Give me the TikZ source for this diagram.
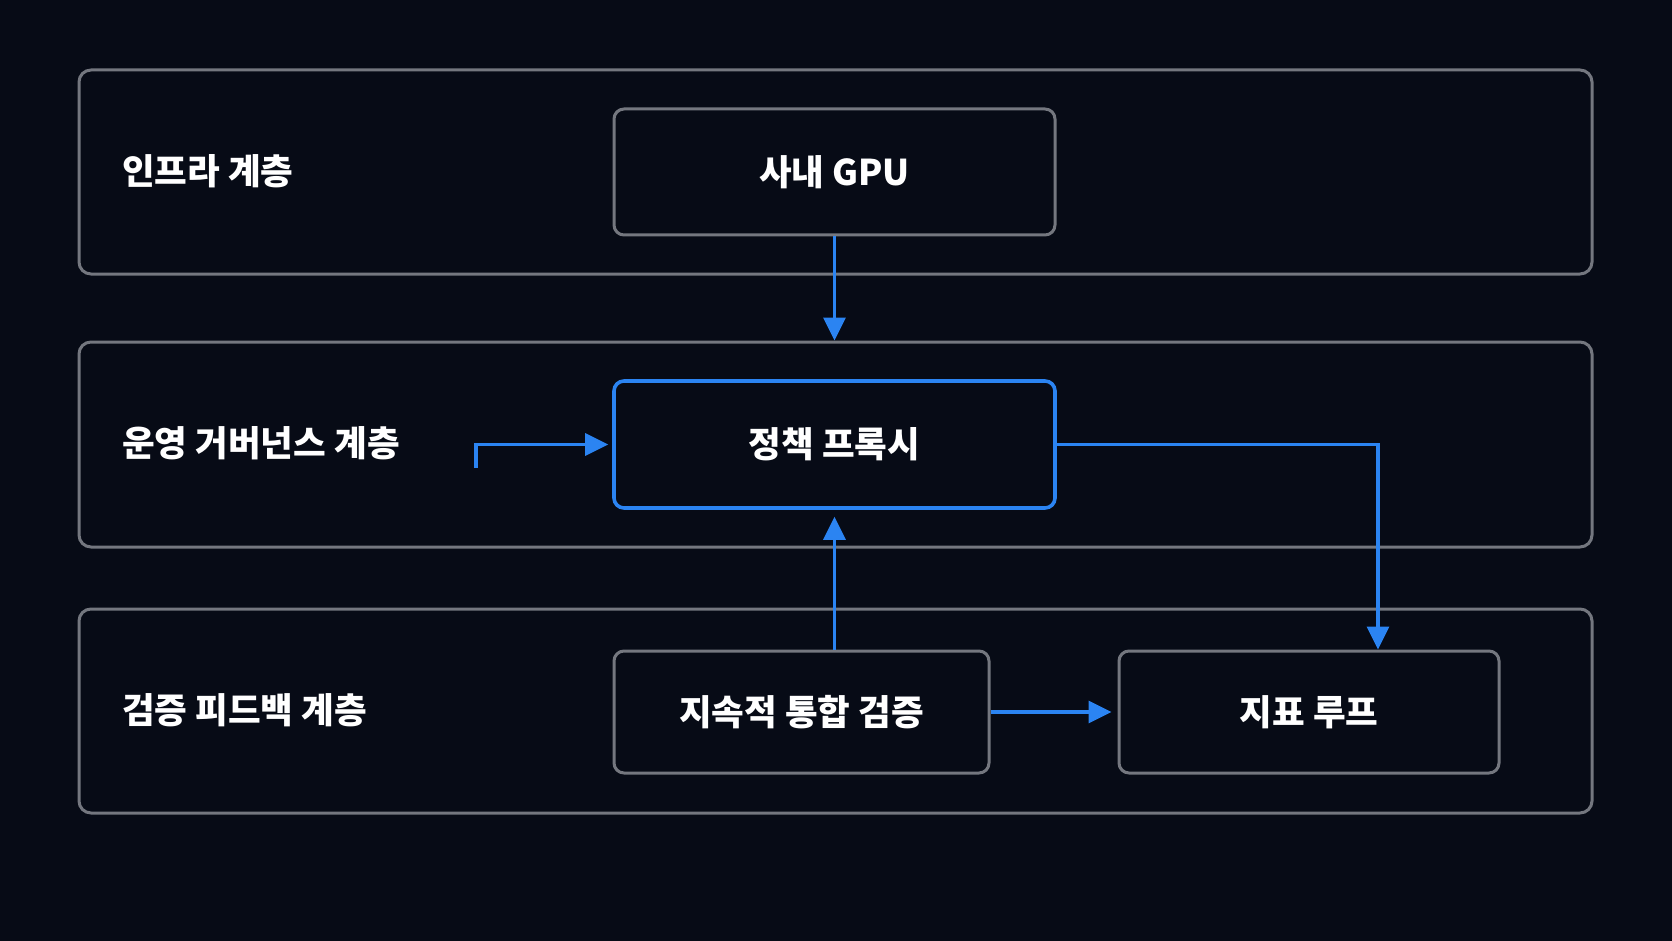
\documentclass[tikz,border=0pt]{standalone}
\usepackage{fontspec}
\setmainfont{Noto Sans CJK KR}
\usetikzlibrary{arrows.meta,positioning}

\definecolor{bg}{HTML}{070B16}
\definecolor{edge}{HTML}{74777F}
\definecolor{accent}{HTML}{2B84F2}

\begin{document}
\begin{tikzpicture}[x=1pt,y=-1pt,
    font=\fontsize{35.5}{42}\selectfont\bfseries,
    layer/.style={draw=edge, line width=3pt, rounded corners=12pt, inner sep=0pt},
    box/.style={draw=edge, line width=3pt, rounded corners=10pt, text=white, inner sep=0pt},
    tag/.style={anchor=west, text=white, inner sep=0pt},
    flow/.style={draw=accent, line width=3.3pt, arrows={-Triangle[length=23pt,width=22pt]}}]
        \fill[bg] (0,0) rectangle (1672,941);
        \useasboundingbox (0,0) rectangle (1672,941);

        % three layers
        \node[layer, minimum width=1513pt, minimum height=204pt] (infra) at (835.5,172) {};
        \node[layer, minimum width=1513pt, minimum height=205pt] (gov) at (835.5,444.5) {};
        \node[layer, minimum width=1513pt, minimum height=204pt] (check) at (835.5,711) {};

        \node[tag] (infratag) at (122,171) {인프라 계층};
        \node[tag] (govtag) at (122,443) {운영 거버넌스 계층};
        \node[tag] (checktag) at (122,710) {검증 피드백 계층};

        % boxes
        \node[box, minimum width=441pt, minimum height=126pt] (gpu) at (834.5,172) {사내 GPU};
        \node[box, draw=accent, line width=3.6pt, minimum width=441pt, minimum height=127pt] (proxy) at (834.5,444.5) {정책 프록시};
        \node[box, minimum width=375pt, minimum height=122pt] (ci) at (801.5,712) {지속적 통합 검증};
        \node[box, minimum width=380pt, minimum height=122pt] (metric) at (1309,712) {지표 루프};

        \coordinate (entry) at (476,468);

        % connectors
        \draw[flow] (gpu.south) -- (gpu.south |- gov.north);
        \draw[flow] (proxy.south |- ci.north) -- ([yshift=-7pt]proxy.south);
        \draw[flow] (entry) |- ([xshift=-4pt]proxy.west);
        \draw[flow] (proxy.east) -| ([xshift=69pt]metric.north);
        \draw[flow] (ci.east) -- ([xshift=-6pt]metric.west);
\end{tikzpicture}
\end{document}
